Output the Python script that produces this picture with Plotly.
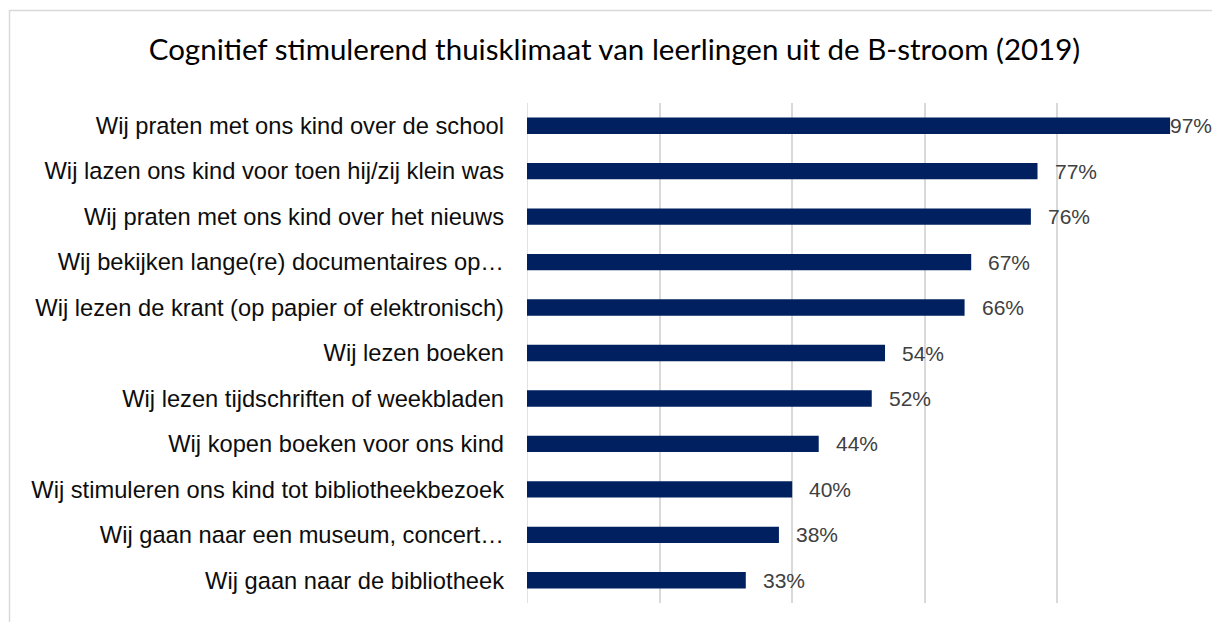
import plotly.graph_objects as go

categories = [
    "Wij praten met ons kind over de school",
    "Wij lazen ons kind voor toen hij/zij klein was",
    "Wij praten met ons kind over het nieuws",
    "Wij bekijken lange(re) documentaires op…",
    "Wij lezen de krant (op papier of elektronisch)",
    "Wij lezen boeken",
    "Wij lezen tijdschriften of weekbladen",
    "Wij kopen boeken voor ons kind",
    "Wij stimuleren ons kind tot bibliotheekbezoek",
    "Wij gaan naar een museum, concert…",
    "Wij gaan naar de bibliotheek",
]
values = [97, 77, 76, 67, 66, 54, 52, 44, 40, 38, 33]
value_labels = [f"{v}%" for v in values]
title_text = "Cognitief stimulerend thuisklimaat van leerlingen uit de B-stroom (2019)"

W, H = 1212, 622
L, R, T, B = 527, 22, 103, 19
pw = W - L - R
ph = H - T - B

fig = go.Figure(go.Bar(
    x=values, y=categories, orientation="h",
    marker=dict(color="#002060", line=dict(width=0)),
    width=0.36,
    hoverinfo="skip",
))

for c, v, t in zip(categories, values, value_labels):
    fig.add_annotation(
        x=v, y=c, text=t, showarrow=False, xanchor="left",
        xshift=15 if v < 90 else -2,
        font=dict(family="Liberation Sans, Arial", size=21, color="#404040"),
    )

# outer border (chart area frame)
fig.add_shape(
    type="rect", xref="paper", yref="paper",
    x0=(9.5 - L) / pw, x1=(W + 20 - L) / pw,
    y0=-(B + 20) / ph, y1=1 + (T - 10.5) / ph,
    line=dict(color="#d9d9d9", width=1.5), layer="below",
)

fig.update_layout(
    width=W, height=H,
    margin=dict(l=L, r=R, t=T, b=B, pad=0),
    paper_bgcolor="white", plot_bgcolor="white",
    showlegend=False,
    title=dict(
        text=title_text, x=614.5 / W, xref="container", xanchor="center",
        y=(H - 50) / H, yref="container", yanchor="middle",
        font=dict(family="Lato, Open Sans", size=29.5, color="#000000"),
    ),
    xaxis=dict(
        range=[0, 100], dtick=20, showticklabels=False,
        showgrid=True, gridcolor="#d9d9d9", gridwidth=1.5,
        zeroline=False, showline=False, ticks="",
    ),
    yaxis=dict(
        categoryorder="array", categoryarray=categories[::-1],
        range=[-0.5, len(categories) - 0.5],
        showgrid=False, zeroline=False,
        showline=False, ticks="",
        ticklabelstandoff=22,
        tickfont=dict(family="Liberation Sans, Arial", size=23.7, color="#0d0d0d"),
    ),
)
fig.add_vline(x=0, line=dict(color="#d9d9d9", width=1.5), layer="below")

fig.write_html("out.html")
